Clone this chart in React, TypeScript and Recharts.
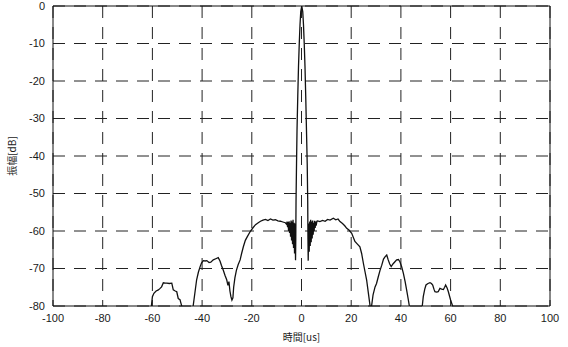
import {
  LineChart,
  Line,
  XAxis,
  YAxis,
  CartesianGrid,
  ReferenceLine,
} from "recharts";

// 時間 [us] / 振幅 [dB] pairs (values below -80 are clipped)
const farLeft: [number, number][] = [
  [-100, -92], [-80, -95], [-62, -90], [-60.4, -80], [-60, -77.5], [-59.4, -76.6],
  [-58.5, -76], [-57.6, -75.7], [-56.9, -75.3], [-56.3, -74.9], [-55.6, -73.8],
  [-54.8, -73.9], [-54.2, -73.9], [-53.2, -74], [-52.2, -73.9], [-51.6, -75.7],
  [-50.8, -76], [-50.2, -76.2], [-49.6, -78], [-48.9, -78.3], [-48.2, -80],
  [-47, -88], [-45, -86],
];

const leftLobe: [number, number][] = [
  [-43.6, -80], [-42.8, -76], [-42.2, -73], [-41.5, -71], [-40.8, -69.5], [-40.2, -68.5],
  [-39.5, -67.9], [-38.8, -68], [-38.1, -67.9], [-37.2, -68.4], [-36.5, -68.3],
  [-35.5, -67.7], [-34.5, -67.4], [-33.5, -67.1], [-32.8, -68], [-32.2, -69.2],
  [-31.5, -70.4], [-30.8, -71.8], [-30.1, -73], [-29.6, -74.5], [-29.2, -73.5],
  [-28.8, -76], [-28.4, -77.5], [-28, -78.4], [-27.6, -77.8], [-27.3, -75],
  [-26.8, -72.5], [-26.2, -70.5], [-25.5, -69], [-24.7, -67.7], [-24.1, -66],
  [-23.4, -64.2], [-22.6, -62.5], [-21.8, -61.5], [-20.7, -60.2], [-19.6, -59.2],
  [-18.5, -58.3], [-17.4, -57.8], [-16.5, -57.4], [-15.5, -57.1], [-14.5, -56.9],
  [-13.5, -57.2], [-12.5, -56.8], [-11.5, -57.1], [-10.5, -57], [-9.5, -57.3],
  [-8.5, -57.4], [-7.5, -57.6], [-6.5, -57.8], [-6, -58.2],
];

const center: [number, number][] = [
  [-5.8, -57.5], [-5.6, -59], [-5.4, -57.6], [-5.2, -60], [-5.0, -57.4], [-4.8, -60.5],
  [-4.6, -57.8], [-4.4, -61.5], [-4.2, -57.2], [-4.0, -62.5], [-3.8, -57.5], [-3.6, -63.5],
  [-3.4, -57], [-3.2, -64.5], [-3.0, -57.8], [-2.8, -66], [-2.6, -58], [-2.4, -67.8],
  [-2.3, -62], [-2.2, -52], [-2.0, -42], [-1.8, -33], [-1.5, -24], [-1.2, -16],
  [-0.9, -10], [-0.6, -5], [-0.3, -1.5], [0.1, 0], [0.5, -1.5], [0.8, -5], [1.1, -10],
  [1.4, -16], [1.7, -24], [2.0, -33], [2.3, -42], [2.5, -52], [2.6, -62], [2.7, -67.9],
  [2.9, -58], [3.1, -65.5], [3.3, -57.5], [3.5, -64], [3.7, -57], [3.9, -63], [4.1, -57.5],
  [4.3, -62], [4.5, -57.2], [4.7, -61], [4.9, -57.8], [5.1, -60], [5.3, -57.3],
  [5.5, -59.2], [5.7, -57.5], [5.9, -58.6], [6.2, -57.4],
];

const rightLobe: [number, number][] = [
  [6.5, -57.3], [7.4, -57.5], [8.5, -57.2], [9.5, -57.4], [10.5, -56.9], [11.5, -57.1],
  [12.8, -56.6], [13.8, -57], [14.7, -56.8], [15.5, -57.5], [16.5, -58], [17.4, -58.6],
  [18.2, -59.3], [19.2, -59.8], [20.2, -60.6], [21.5, -62.8], [22.5, -63.5], [23.5, -64.2],
  [24.2, -66], [24.9, -68.6], [25.6, -71], [26.2, -73], [26.9, -76.5], [27.6, -80],
  [27.9, -82], [28.2, -80], [28.8, -77], [29.6, -74.9], [30.2, -74], [30.9, -72.2],
  [31.6, -70.5], [32.3, -69.1], [33, -67.5], [33.6, -66.9], [34.3, -66.4], [34.9, -67.7],
  [35.5, -68.8], [36.1, -69.5], [36.8, -68.8], [37.6, -68.2], [38.3, -67.7], [39, -67.6],
  [39.6, -68.2], [40.3, -69.5], [41, -71.3], [41.7, -73.5], [42.3, -75.7], [42.9, -78],
  [43.4, -80], [44, -88], [46, -90],
];

const farRight: [number, number][] = [
  [48.6, -80], [49, -77.5], [49.6, -75.5], [50.1, -74.4], [50.9, -74], [51.7, -73.8],
  [52.3, -74], [52.8, -74.4], [53.3, -75.5], [53.7, -76.2], [54.4, -76.3], [55, -76.2],
  [55.7, -75.3], [56.4, -75.5], [57.1, -75.6], [57.6, -75], [58, -74.4], [58.6, -75.2],
  [59.1, -76.2], [60, -78.4], [60.8, -80], [62, -90], [80, -95], [100, -92],
];

const xTicks = [-100, -80, -60, -40, -20, 0, 20, 40, 60, 80, 100];
const yTicks = [0, -10, -20, -30, -40, -50, -60, -70, -80];

const data = [...farLeft, ...leftLobe, ...center, ...rightLobe, ...farRight].map(([t, a]) => ({ t, a }));

const tickStyle = { fill: "#1a1a1a", fontSize: 11, fontFamily: "'Liberation Sans', Arial, sans-serif" };
const cjk = "'Noto Sans CJK JP', sans-serif";

export default function App() {
  return (
    <div style={{ position: "absolute", left: 0, top: 0, background: "#fff" }}>
      <LineChart width={568} height={347} data={data} margin={{ top: 6, right: 18, bottom: 6, left: 0 }}>
        <CartesianGrid stroke="#222" strokeDasharray="12 9" />
        <XAxis
          dataKey="t"
          type="number"
          domain={[-100, 100]}
          ticks={xTicks}
          allowDataOverflow
          height={35}
          tickLine={false}
          axisLine={{ stroke: "#111" }}
          tick={tickStyle}
          label={{ value: "時間[us]", position: "insideBottom", offset: 0, style: { fontSize: 10, fontFamily: cjk, fill: "#1a1a1a" } }}
        />
        <YAxis
          type="number"
          domain={[-80, 0]}
          ticks={yTicks}
          allowDataOverflow
          width={53}
          tickLine={false}
          axisLine={{ stroke: "#111" }}
          tick={tickStyle}
          label={{ value: "振幅[dB]", angle: -90, position: "insideLeft", offset: 12, style: { textAnchor: "middle", fontSize: 10, fontFamily: cjk, fill: "#1a1a1a" } }}
        />
        <ReferenceLine y={0} stroke="#111" />
        <ReferenceLine x={100} stroke="#111" />
        <Line
          type="linear"
          dataKey="a"
          stroke="#111"
          strokeWidth={1.3}
          dot={false}
          isAnimationActive={false}
        />
      </LineChart>
    </div>
  );
}
